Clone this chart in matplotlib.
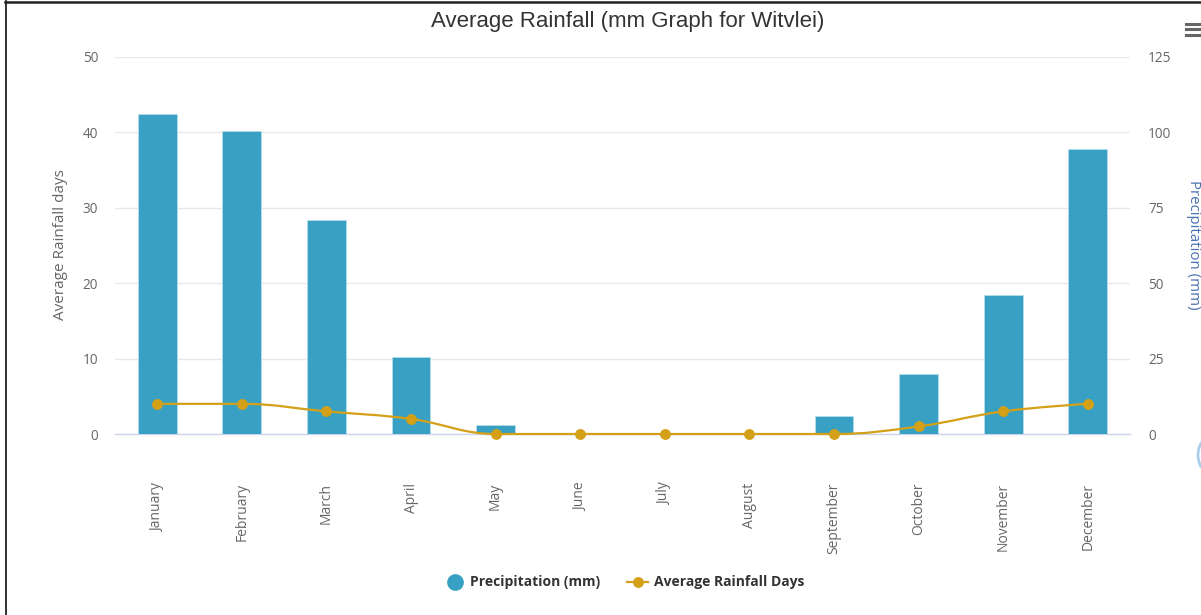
import numpy as np
import matplotlib
matplotlib.use("Agg")
import matplotlib.pyplot as plt
from matplotlib.path import Path
from matplotlib.patches import PathPatch, Circle
from matplotlib.lines import Line2D

# Monthly climate figures for Witvlei
months = ["January", "February", "March", "April", "May", "June", "July",
          "August", "September", "October", "November", "December"]
precip_mm = [106, 100.5, 71, 25.5, 3, 0, 0, 0, 6, 20, 46, 94.5]
rain_days = [4, 4, 3, 2, 0, 0, 0, 0, 0, 1, 3, 4]

days_ticks = [0, 10, 20, 30, 40, 50]
precip_ticks = [0, 25, 50, 75, 100, 125]

BAR_COLOR = "#38a0c2"
LINE_COLOR = "#d4a017"
W, H = 1201, 615


def px(x, y):
    """Figure fraction from pixel position (origin top-left)."""
    return x / W, 1 - y / H


def spline_path(xs, ys, smoothing=1.5):
    """Smooth curve through the points using cubic Bezier segments."""
    n = len(xs)
    denom = smoothing + 1
    right_c = [None] * n
    verts = [(xs[0], ys[0])]
    codes = [Path.MOVETO]
    for i in range(1, n):
        x, y = xs[i], ys[i]
        lx, ly = xs[i - 1], ys[i - 1]
        left_cx, left_cy = x, y
        if i < n - 1:
            nx, ny = xs[i + 1], ys[i + 1]
            left_cx = (smoothing * x + lx) / denom
            left_cy = (smoothing * y + ly) / denom
            rcx = (smoothing * x + nx) / denom
            rcy = (smoothing * y + ny) / denom
            if rcx != left_cx:
                corr = ((rcy - left_cy) * (rcx - x)) / (rcx - left_cx) + y - rcy
                left_cy += corr
                rcy += corr
            if left_cy > ly and left_cy > y:
                left_cy = max(ly, y)
                rcy = 2 * y - left_cy
            elif left_cy < ly and left_cy < y:
                left_cy = min(ly, y)
                rcy = 2 * y - left_cy
            if rcy > ny and rcy > y:
                rcy = max(ny, y)
                left_cy = 2 * y - rcy
            elif rcy < ny and rcy < y:
                rcy = min(ny, y)
                left_cy = 2 * y - rcy
            right_c[i] = (rcx, rcy)
        prev_c = right_c[i - 1] if right_c[i - 1] is not None else (lx, ly)
        verts += [prev_c, (left_cx, left_cy), (x, y)]
        codes += [Path.CURVE4] * 3
    return Path(verts, codes)


fig = plt.figure(figsize=(W / 100, H / 100), dpi=100, facecolor="white")
left, top = px(115, 57)
right, bottom = px(1130, 434)
ax2 = fig.add_axes([left, bottom, right - left, top - bottom])
ax = ax2.twinx()
ax.set_zorder(2)
ax2.set_zorder(1)
ax.patch.set_visible(False)

x = np.arange(len(months))

# Precipitation bars on the right-hand scale
ax2.bar(x, precip_mm, width=0.46, color=BAR_COLOR, edgecolor="#bfe3ee",
        linewidth=0.4, zorder=3)
ax2.set_ylim(0, 125)
ax2.set_yticks(precip_ticks)
ax2.grid(axis="y", color="#e9e9e9", linewidth=1.0, zorder=0)
ax2.set_axisbelow(True)
ax2.yaxis.tick_right()
ax2.yaxis.set_label_position("right")

# Rainfall days line on the left-hand scale
ax.yaxis.tick_left()
ax.set_ylim(0, 50)
ax.set_yticks(days_ticks)
path = spline_path(list(x.astype(float)), [float(v) for v in rain_days])
ax.add_patch(PathPatch(path, facecolor="none", edgecolor=LINE_COLOR,
                       linewidth=1.6, zorder=4, clip_on=False))
ax.plot(x, rain_days, linestyle="none", marker="o", markersize=6.8,
        color=LINE_COLOR, zorder=5, clip_on=False)

for a in (ax, ax2):
    a.set_xlim(-0.5, len(months) - 0.5)
    for s in a.spines.values():
        s.set_visible(False)

ax2.spines["bottom"].set_visible(True)
ax2.spines["bottom"].set_color("#ccd6eb")
ax2.spines["bottom"].set_linewidth(1.0)

ax.tick_params(axis="y", length=0, pad=12, labelsize=9.8, labelcolor="#666666")
ax2.tick_params(axis="y", length=0, pad=13, labelsize=9.8, labelcolor="#666666")
for lab in ax.get_yticklabels() + ax2.get_yticklabels():
    lab.set_family("Open Sans")

ax2.set_xticks(x)
ax2.set_xticklabels(months, rotation=90, va="top", ha="center",
                    fontsize=10, color="#666666", family="Open Sans")
ax2.tick_params(axis="x", length=0, pad=35)
ax.tick_params(axis="x", length=0, labelbottom=False)

# Titles
fig.text(*px(628, 22), "Average Rainfall (mm Graph for Witvlei)",
         ha="center", va="center", fontsize=16, color="#333333",
         family="Liberation Sans")
fig.text(*px(60, 245), "Average Rainfall days", rotation=90,
         ha="center", va="center", fontsize=11, color="#666666",
         family="Open Sans")
fig.text(*px(1193, 245), "Precipitation (mm)", rotation=270,
         ha="center", va="center", fontsize=10.8, color="#4a72b0",
         family="Open Sans")

# Legend
fig.add_artist(Line2D([px(455, 0)[0]], [px(0, 582)[1]], marker="o",
                      markersize=11, color=BAR_COLOR, linestyle="none",
                      transform=fig.transFigure))
fig.text(*px(470, 582), "Precipitation (mm)", ha="left", va="center",
         fontsize=10, fontweight="bold", color="#333333", family="Open Sans")
fig.add_artist(Line2D([px(627, 0)[0], px(648, 0)[0]],
                      [px(0, 582)[1]] * 2, color=LINE_COLOR, linewidth=1.6,
                      transform=fig.transFigure))
fig.add_artist(Line2D([px(637.5, 0)[0]], [px(0, 582)[1]], marker="o",
                      markersize=6.8, color=LINE_COLOR, linestyle="none",
                      transform=fig.transFigure))
fig.text(*px(654, 582), "Average Rainfall Days", ha="left", va="center",
         fontsize=10, fontweight="bold", color="#333333", family="Open Sans")

# Menu icon
for yy in (23.5, 29, 34.5):
    fig.add_artist(Line2D([px(1186, 0)[0], px(1201, 0)[0]], [px(0, yy)[1]] * 2,
                          color="#666666", linewidth=2.2,
                          transform=fig.transFigure))

# Frame edges
fig.add_artist(Line2D([px(5, 0)[0], px(1201, 0)[0]], [px(0, 2)[1]] * 2,
                      color="#222222", linewidth=1.8, transform=fig.transFigure))
fig.add_artist(Line2D([px(5.5, 0)[0]] * 2, [px(0, 1)[1], px(0, 615)[1]],
                      color="#222222", linewidth=1.3, transform=fig.transFigure))

# Partially visible round button at the right edge
btn = Circle((1222, H - 455), 24, transform=None, facecolor="white",
             edgecolor="#a9cfe9", linewidth=2.0)
fig.add_artist(btn)

fig.savefig("out.png", dpi=100, facecolor="white")
